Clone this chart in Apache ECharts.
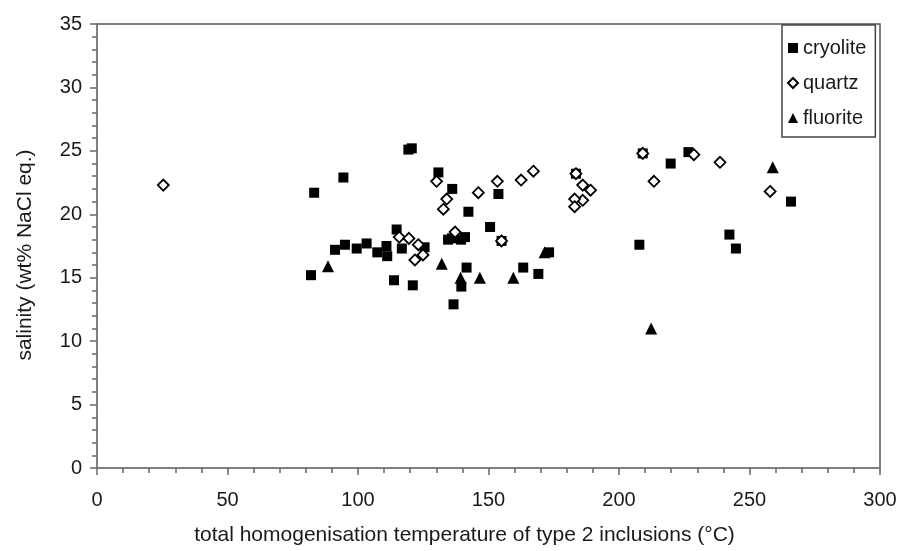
<!DOCTYPE html>
<html>
<head>
<meta charset="utf-8">
<script src="https://cdn.jsdelivr.net/npm/echarts@6/dist/echarts.min.js"></script>
<style>
html,body{margin:0;padding:0;background:#fff;}
#chart{width:901px;height:551px;}
</style>
</head>
<body>
<div id="chart"></div>
<script>
// temperature (°C), salinity (wt% NaCl eq.)
var cryolite = [
  [82.0,15.2],[83.2,21.7],[94.4,22.9],[91.2,17.2],[95.0,17.6],[99.5,17.3],[103.3,17.7],
  [107.4,17.0],[110.9,17.5],[111.2,16.7],[114.8,18.8],[116.8,17.3],[113.8,14.8],[121.0,14.4],
  [119.3,25.1],[120.6,25.2],[125.5,17.4],[130.8,23.3],[136.1,22.0],[134.5,18.0],[136.0,18.1],
  [139.5,18.0],[141.0,18.2],[136.6,12.9],[139.6,14.3],[141.6,15.8],[142.3,20.2],
  [150.6,19.0],[153.8,21.6],[155.0,17.9],[163.3,15.8],[169.1,15.3],[173.2,17.0],[183.5,23.2],
  [207.8,17.6],[209.1,24.8],[219.8,24.0],[226.6,24.9],[242.3,18.4],[244.8,17.3],[265.9,21.0]
];
var quartz = [
  [25.4,22.3],[115.8,18.2],[119.5,18.1],[123.1,17.6],[124.9,16.8],[121.8,16.4],[130.1,22.6],
  [134.0,21.2],[132.7,20.4],[137.2,18.6],[146.1,21.7],[153.4,22.6],[155.0,17.9],[162.5,22.7],
  [167.2,23.4],[183.5,23.2],[186.1,22.3],[189.1,21.9],[186.1,21.1],[183.0,21.2],[183.0,20.6],
  [209.1,24.8],[213.4,22.6],[228.7,24.7],[238.7,24.1],[257.9,21.8]
];
var fluorite = [
  [88.5,15.9],[132.1,16.1],[139.3,15.0],[146.7,15.0],[159.5,15.0],[171.5,17.0],[212.3,11.0],[258.9,23.7]
];
var seriesNames = ['cryolite','quartz','fluorite'];
var xTitle = 'total homogenisation temperature of type 2 inclusions (°C)';
var yTitle = 'salinity (wt% NaCl eq.)';

var FONT = 'Liberation Sans, Arial, sans-serif';
var TXT = '#1a1a1a';
var chart = echarts.init(document.getElementById('chart'), null, {renderer:'canvas'});
chart.setOption({
  backgroundColor: '#fff',
  animation: false,
  textStyle: {fontFamily: FONT, color: TXT},
  grid: {left: 97, right: 21, top: 24, bottom: 79, show: true, borderColor: '#555', borderWidth: 1.5, backgroundColor: 'transparent'},
  legend: {
    orient: 'vertical', left: 782, top: 25,
    backgroundColor: '#fff', borderColor: '#444', borderWidth: 1.5,
    padding: [13, 9, 9, 5], itemGap: 15, itemWidth: 10, itemHeight: 10,
    textStyle: {fontFamily: FONT, fontSize: 20, color: TXT},
    data: seriesNames
  },
  xAxis: {
    type: 'value', min: 0, max: 300, interval: 50,
    name: xTitle, nameLocation: 'middle', nameGap: 57,
    nameTextStyle: {fontFamily: FONT, fontSize: 21, color: TXT, padding: [0, 48, 0, 0]},
    axisLine: {show: true, lineStyle: {color: '#808080', width: 2}},
    axisTick: {show: true, length: 7, lineStyle: {color: '#666', width: 1.5}},
    minorTick: {show: true, splitNumber: 5, length: 5, lineStyle: {color: '#666', width: 1.5}},
    splitLine: {show: false},
    axisLabel: {fontFamily: FONT, fontSize: 20, color: TXT, margin: 22}
  },
  yAxis: {
    type: 'value', min: 0, max: 35, interval: 5,
    name: yTitle, nameLocation: 'middle', nameGap: 61, nameRotate: 90,
    nameTextStyle: {fontFamily: FONT, fontSize: 21, color: TXT, padding: [0, 18, 0, 0]},
    axisLine: {show: true, lineStyle: {color: '#808080', width: 2}},
    axisTick: {show: true, length: 7, lineStyle: {color: '#666', width: 1.5}},
    minorTick: {show: true, splitNumber: 5, length: 5, lineStyle: {color: '#666', width: 1.5}},
    splitLine: {show: false},
    axisLabel: {fontFamily: FONT, fontSize: 20, color: TXT, margin: 15}
  },
  series: [
    {name: seriesNames[0], type: 'scatter', data: cryolite, symbol: 'rect', symbolSize: 10, z: 3,
     itemStyle: {color: '#000', opacity: 1}},
    {name: seriesNames[1], type: 'scatter', data: quartz, symbol: 'diamond', symbolSize: 11, z: 4,
     itemStyle: {color: '#fff', borderColor: '#000', borderWidth: 1.8, opacity: 1}},
    {name: seriesNames[2], type: 'scatter', data: fluorite, symbol: 'triangle', symbolSize: 12, z: 2,
     itemStyle: {color: '#000', opacity: 1}}
  ]
});
</script>
</body>
</html>
